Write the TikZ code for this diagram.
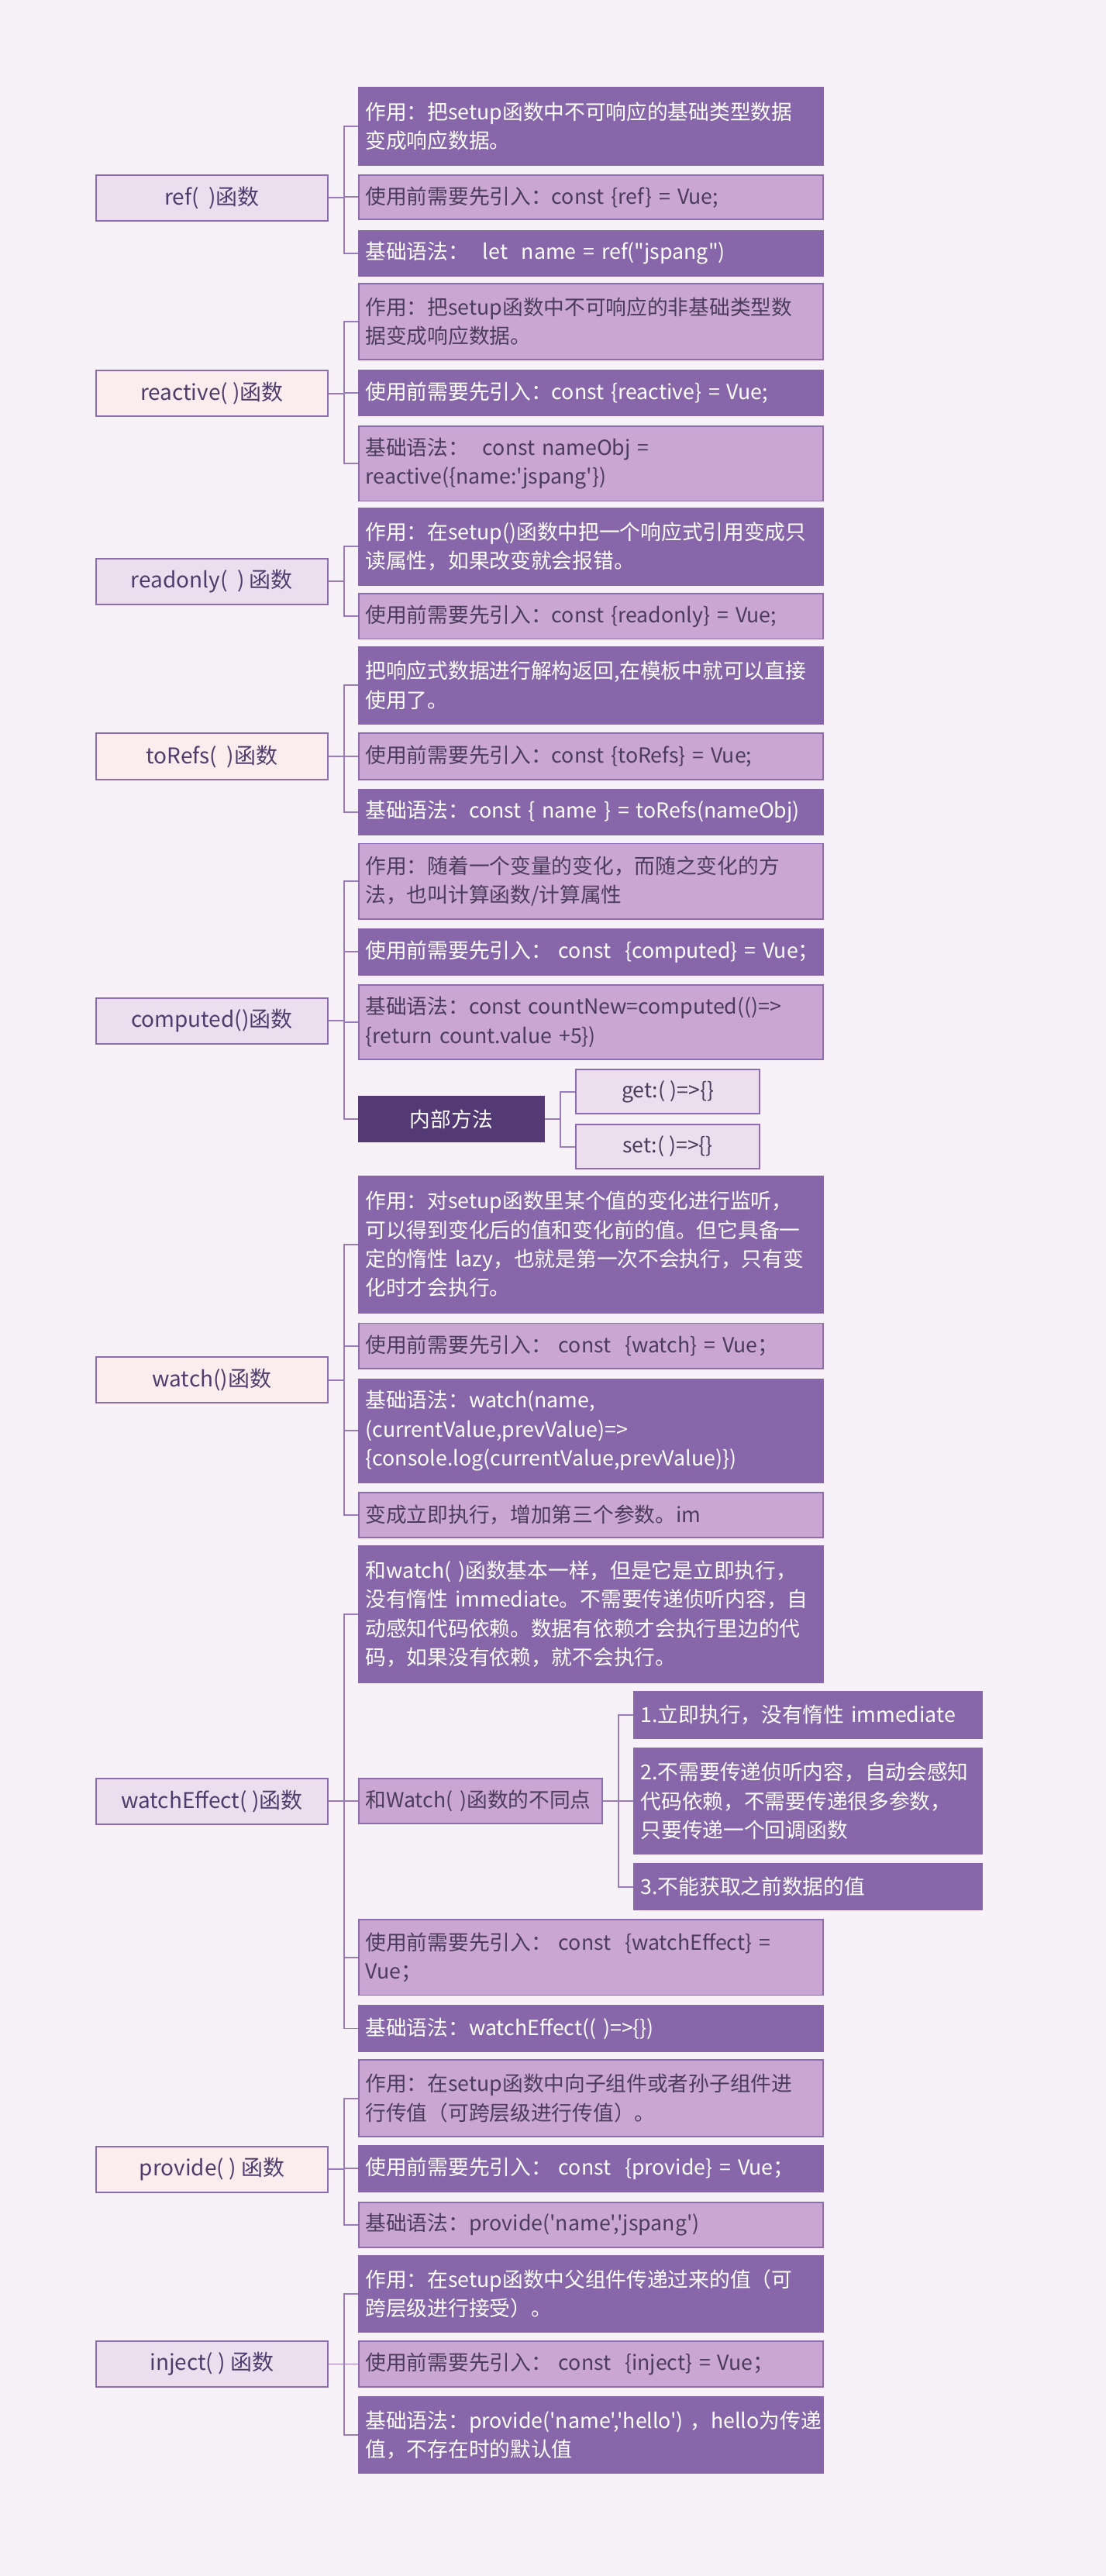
\documentclass[tikz,border=0pt]{standalone}
\usepackage{fontspec}
\setmainfont{Noto Sans CJK SC}[Ligatures=TeXOff]
\hyphenpenalty=10000
\definecolor{bgC}{HTML}{F7F1F8}
\definecolor{bordC}{HTML}{8D6DB2}
\definecolor{linkC}{HTML}{9A7BBE}
\definecolor{topicA}{HTML}{ECDEEE}
\definecolor{topicB}{HTML}{FBECEE}
\definecolor{topicTxt}{HTML}{4E3C6C}
\definecolor{noteD}{HTML}{8767A9}
\definecolor{noteL}{HTML}{CAA7D3}
\definecolor{noteTxt}{HTML}{4B3C5C}
\definecolor{innerC}{HTML}{543A74}
\begin{document}
\begin{tikzpicture}[x=1pt,y=-1pt,
    box/.style={anchor=north west, inner sep=0pt, line width=0.9pt},
    topic/.style={box, draw=bordC, fill=topicA, text=topicTxt, minimum width=141pt, minimum height=28pt, font=\fontsize{13.2}{16}\selectfont},
    topicb/.style={topic, fill=topicB},
    note/.style={box, fill=noteD, draw=noteD, text=white, text width=274.5pt, inner xsep=4pt, align=left, font=\fontsize{12.6}{17.6}\selectfont},
    notel/.style={note, fill=noteL, draw=bordC, text=noteTxt},
    inner/.style={box, fill=innerC, draw=innerC, text=white, minimum width=112.5pt, minimum height=27.5pt, font=\fontsize{12.6}{16}\selectfont},
    leaf/.style={box, draw=bordC, fill=topicA, text=noteTxt, minimum width=112pt, minimum height=27pt, font=\fontsize{12.6}{16}\selectfont},
    link/.style={draw=linkC, line width=0.9pt, to path={-- ++(9.5,0) |- (\tikztotarget)}}]
    \fill [bgC] (0,0) rectangle (673,1568);
    \useasboundingbox (0,0) rectangle (673,1568);
    % left column
    \node [topic] (P1) at (58,106) {ref(~~)函数};
    \node [topicb] (P2) at (58,225) {reactive( )函数};
    \node [topic] (P3) at (58,339.5) {readonly(~~) 函数};
    \node [topicb] (P4) at (58,446) {toRefs(~~)函数};
    \node [topic] (P5) at (58,607) {computed()函数};
    \node [topicb] (P6) at (58,825.5) {watch()函数};
    \node [topic] (P7) at (58,1082) {watchEffect( )函数};
    \node [topicb] (P8) at (58,1306) {provide( ) 函数};
    \node [topic] (P9) at (58,1424.5) {inject( ) 函数};
    % ref
    \node [note, minimum height=47pt] (P1_1) at (218,53) {作用：把setup函数中不可响应的基础类型数据\\变成响应数据。};
    \node [notel, minimum height=27pt] (P1_2) at (218,106) {使用前需要先引入：const \{ref\} = Vue;};
    \node [note, minimum height=27.5pt] (P1_3) at (218,140) {基础语法：~~let~~name = ref("jspang")};
    % reactive
    \node [notel, minimum height=46.5pt] (P2_1) at (218,172) {作用：把setup函数中不可响应的非基础类型数\\据变成响应数据。};
    \node [note, minimum height=27.5pt] (P2_2) at (218,225) {使用前需要先引入：const \{reactive\} = Vue;};
    \node [notel, minimum height=45.5pt] (P2_3) at (218,259) {基础语法：~~const nameObj =\\reactive(\{name:'jspang'\})};
    % readonly
    \node [note, minimum height=46.5pt] (P3_1) at (218,309) {作用：在setup()函数中把一个响应式引用变成只\\读属性，如果改变就会报错。};
    \node [notel, minimum height=27.5pt] (P3_2) at (218,361) {使用前需要先引入：const \{readonly\} = Vue;};
    % toRefs
    \node [note, minimum height=46.5pt] (P4_1) at (218,393.5) {把响应式数据进行解构返回,在模板中就可以直接\\使用了。};
    \node [notel, minimum height=28pt] (P4_2) at (218,446) {使用前需要先引入：const \{toRefs\} = Vue;};
    \node [note, minimum height=27.5pt] (P4_3) at (218,480) {基础语法：const \{ name \} = toRefs(nameObj)};
    % computed
    \node [notel, minimum height=46pt] (P5_1) at (218,513) {作用：随着一个变量的变化，而随之变化的方\\法，也叫计算函数/计算属性};
    \node [note, minimum height=28pt] (P5_2) at (218,565) {使用前需要先引入：~const~~\{computed\}~=~Vue；};
    \node [notel, minimum height=45.5pt] (P5_3) at (218,599) {基础语法：const countNew=computed(()=>\\\{return count.value +5\})};
    \node [inner] (P5_4) at (218,667) {内部方法};
    \node [leaf] (P5_4_1) at (350,650.5) {get:( )=>\{\}};
    \node [leaf] (P5_4_2) at (350,684) {set:( )=>\{\}};
    % watch
    \node [note, minimum height=83pt] (P6_1) at (218,715.5) {作用：对setup函数里某个值的变化进行监听，\\可以得到变化后的值和变化前的值。但它具备一\\定的惰性 lazy，也就是第一次不会执行，只有变\\化时才会执行。};
    \node [notel, minimum height=27.5pt] (P6_2) at (218,805) {使用前需要先引入：~const~~\{watch\} = Vue；};
    \node [note, minimum height=63pt] (P6_3) at (218,839) {基础语法：watch(name,\\(currentValue,prevValue)=>\\\{console.log(currentValue,prevValue)\})};
    \node [notel, minimum height=27.5pt] (P6_4) at (218,908) {变成立即执行，增加第三个参数。im};
    % watchEffect
    \node [note, minimum height=83pt] (P7_1) at (218,940.5) {和watch( )函数基本一样，但是它是立即执行，\\没有惰性 immediate。不需要传递侦听内容，自\\动感知代码依赖。数据有依赖才会执行里边的代\\码，如果没有依赖，就不会执行。};
    \node [notel, text width=140pt, minimum height=27.5pt] (P7_2) at (218,1082) {和Watch( )函数的不同点};
    \node [note, text width=203.5pt, minimum height=28pt] (P7_2_1) at (385.5,1029.5) {1.立即执行，没有惰性 immediate};
    \node [note, text width=203.5pt, minimum height=64.5pt] (P7_2_2) at (385.5,1063.5) {2.不需要传递侦听内容，自动会感知\\代码依赖，不需要传递很多参数，\\只要传递一个回调函数};
    \node [note, text width=203.5pt, minimum height=28pt] (P7_2_3) at (385.5,1134) {3.不能获取之前数据的值};
    \node [notel, minimum height=46pt] (P7_3) at (218,1168) {使用前需要先引入：~const~~\{watchEffect\} =\\Vue；};
    \node [note, minimum height=27.5pt] (P7_4) at (218,1220.5) {基础语法：watchEffect(( )=>\{\})};
    % provide
    \node [notel, minimum height=46.5pt] (P8_1) at (218,1253.5) {作用：在setup函数中向子组件或者孙子组件进\\行传值（可跨层级进行传值）。};
    \node [note, minimum height=28pt] (P8_2) at (218,1305.5) {使用前需要先引入：~const~~\{provide\} = Vue；};
    \node [notel, minimum height=27.5pt] (P8_3) at (218,1340) {基础语法：provide('name','jspang')};
    % inject
    \node [note, minimum height=46.5pt] (P9_1) at (218,1372.5) {作用：在setup函数中父组件传递过来的值（可\\跨层级进行接受）。};
    \node [notel, minimum height=28pt] (P9_2) at (218,1424.5) {使用前需要先引入：~const~~\{inject\} = Vue；};
    \node [note, minimum height=46.5pt] (P9_3) at (218,1458.5) {基础语法：provide('name','hello')~，hello为传递\\值，不存在时的默认值};
    % links
    \foreach \i in {1,2,3} \path (P1.east) edge [link] (P1_\i.west);
    \foreach \i in {1,2,3} \path (P2.east) edge [link] (P2_\i.west);
    \foreach \i in {1,2} \path (P3.east) edge [link] (P3_\i.west);
    \foreach \i in {1,2,3} \path (P4.east) edge [link] (P4_\i.west);
    \foreach \i in {1,2,3,4} \path (P5.east) edge [link] (P5_\i.west);
    \foreach \i in {1,2} \path (P5_4.east) edge [link] (P5_4_\i.west);
    \foreach \i in {1,2,3,4} \path (P6.east) edge [link] (P6_\i.west);
    \foreach \i in {1,2,3,4} \path (P7.east) edge [link] (P7_\i.west);
    \foreach \i in {1,2,3} \path (P7_2.east) edge [link] (P7_2_\i.west);
    \foreach \i in {1,2,3} \path (P8.east) edge [link] (P8_\i.west);
    \foreach \i in {1,2,3} \path (P9.east) edge [link] (P9_\i.west);
\end{tikzpicture}
\end{document}
